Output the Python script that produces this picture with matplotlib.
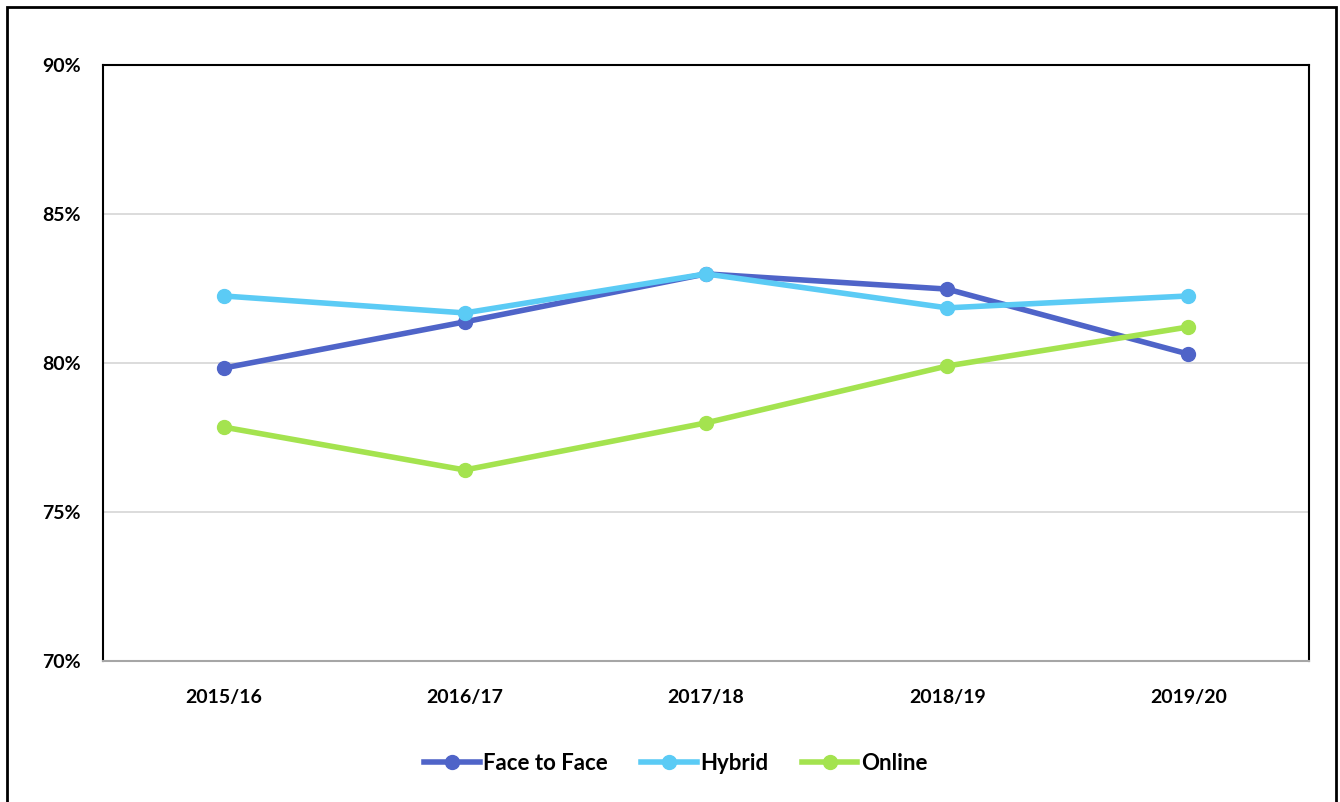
import matplotlib
matplotlib.use('Agg')
import matplotlib.pyplot as plt
from matplotlib.patches import Rectangle
from matplotlib.ticker import FuncFormatter

plt.rcParams['font.family'] = ['Lato', 'DejaVu Sans']

years = ['2015/16', '2016/17', '2017/18', '2018/19', '2019/20']
face_to_face = [79.83, 81.38, 82.99, 82.48, 80.30]
hybrid = [82.25, 81.68, 82.99, 81.85, 82.25]
online = [77.85, 76.41, 77.99, 79.90, 81.21]

fig = plt.figure(figsize=(13.4, 8.02), dpi=100)
ax = fig.add_axes([103 / 1340, 1 - 661 / 802, 1206 / 1340, 596 / 802])

x = range(len(years))
ax.plot(x, face_to_face, color='#4F64C8', lw=4, marker='o', ms=10, label='Face to Face', zorder=3)
ax.plot(x, hybrid, color='#5BCBF5', lw=4, marker='o', ms=10, label='Hybrid', zorder=3)
ax.plot(x, online, color='#A4E34F', lw=4, marker='o', ms=10, label='Online', zorder=3)

ax.set_xlim(-0.5, len(years) - 0.5)
ax.set_ylim(70, 90)
ax.set_yticks([70, 75, 80, 85, 90])
ax.yaxis.set_major_formatter(FuncFormatter(lambda v, p: f'{v:.0f}%'))
ax.set_xticks(list(x))
ax.set_xticklabels(years)
ax.grid(axis='y', color='#D9D9D9', lw=1.3)
ax.set_axisbelow(True)
ax.tick_params(length=0, labelsize=14)
ax.tick_params(axis='y', pad=16)
ax.tick_params(axis='x', pad=20)
for lab in ax.get_xticklabels() + ax.get_yticklabels():
    lab.set_fontweight('bold')

for side in ['top', 'left', 'right']:
    ax.spines[side].set_color('black')
    ax.spines[side].set_linewidth(1.5)
ax.spines['bottom'].set_color('#A6A6A6')
ax.spines['bottom'].set_linewidth(1.5)

leg = ax.legend(loc='center', bbox_to_anchor=(0.475, -0.172), ncol=3, frameon=False,
                prop={'weight': 'bold', 'size': 16}, handlelength=2.5, columnspacing=1.5,
                handletextpad=0.15)

fig.patches.append(Rectangle((0.005, -0.01), 0.992, 1.001, transform=fig.transFigure,
                             fill=False, edgecolor='black', lw=2))

fig.savefig('out.png', dpi=100, facecolor='white')
